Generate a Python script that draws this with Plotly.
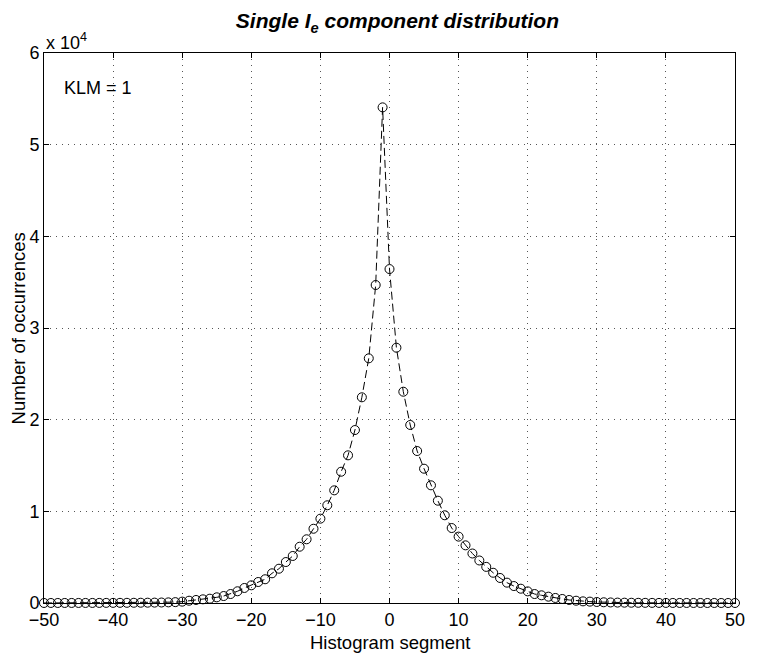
import plotly.graph_objects as go

# Histogram segments -50..50
segments = list(range(-50, 51))

# Number of occurrences per segment
left_tail = [2, 3, 3, 4, 5, 6, 7, 8, 10, 12, 14, 17, 20, 24, 29, 35, 43, 55, 70, 95]  # -50..-31
left_side = [150, 250, 330, 400, 470, 620, 760, 980, 1280, 1640, 1930, 2290, 2590, 3240,
             3740, 4470, 5130, 6140, 6950, 8100, 9200, 10660, 12290, 14320, 16110, 18870,
             22440, 26690, 34690]  # -30..-2
center = [54070, 36430, 27850]  # -1, 0, 1
right_side = [23050, 19420, 16580, 14650, 12840, 11160, 9570, 8180, 7240, 6290, 5400, 4640,
              3940, 3300, 2730, 2220, 1850, 1560, 1270, 980, 840, 690, 550, 440, 330, 250,
              180, 150, 110]  # 2..30
right_tail = [80, 60, 45, 35, 28, 22, 17, 13, 10, 8, 6, 5, 4, 3, 3, 2, 2, 1, 1, 1]  # 31..50
occurrences = left_tail + left_side + center + right_side + right_tail

x_ticks = list(range(-50, 51, 10))
y_ticks = [0, 10000, 20000, 30000, 40000, 50000, 60000]
y_tick_labels = ["0", "1", "2", "3", "4", "5", "6"]

FONT = "Liberation Sans, Arial, Helvetica, sans-serif"

fig = go.Figure()
fig.add_trace(go.Scatter(
    x=segments, y=occurrences, mode="lines+markers",
    line=dict(color="black", width=1, dash="8px,4px"),
    marker=dict(symbol="circle-open", size=9, color="black", line=dict(width=1, color="black")),
    cliponaxis=False, showlegend=False,
))

axis_common = dict(
    showline=True, linecolor="black", linewidth=1, mirror="ticks",
    ticks="inside", ticklen=5, tickcolor="black", tickwidth=1,
    showgrid=True, gridcolor="#555555", gridwidth=1, griddash="1px,5px",
    zeroline=False, tickfont=dict(family=FONT, size=18, color="black"),
)

fig.update_layout(
    width=757, height=658,
    margin=dict(l=44, r=13, t=53, b=55),
    paper_bgcolor="white", plot_bgcolor="white",
    font=dict(family=FONT, color="black"),
    title=dict(
        text="<b><i>Single I<sub>e</sub> component distribution</i></b>",
        x=0.525, xanchor="center", xref="container",
        y=0.968, yanchor="middle", yref="container",
        font=dict(family=FONT, size=21, color="black"),
    ),
    xaxis=dict(range=[-50, 50], tickvals=x_ticks, **axis_common),
    yaxis=dict(range=[0, 60000], tickvals=y_ticks, ticktext=y_tick_labels, **axis_common),
    annotations=[
        dict(text="KLM = 1", x=-47.4, y=56200, xref="x", yref="y", xanchor="left",
             yanchor="middle", showarrow=False, font=dict(family=FONT, size=18, color="black")),
        dict(text="x 10<sup>4</sup>", x=0.0, y=1.0, xref="paper", yref="paper", xanchor="left",
             yanchor="bottom", yshift=-2, showarrow=False,
             font=dict(family=FONT, size=18, color="black")),
        dict(text="Histogram segment", x=0.5, y=-0.071, xref="paper", yref="paper",
             xanchor="center", yanchor="middle", showarrow=False,
             font=dict(family=FONT, size=18.5, color="black")),
        dict(text="Number of occurrences", x=-0.037, y=0.5, xref="paper", yref="paper",
             xanchor="center", yanchor="middle", textangle=-90, showarrow=False,
             font=dict(family=FONT, size=18.5, color="black")),
    ],
)

fig.write_html("out.html")
